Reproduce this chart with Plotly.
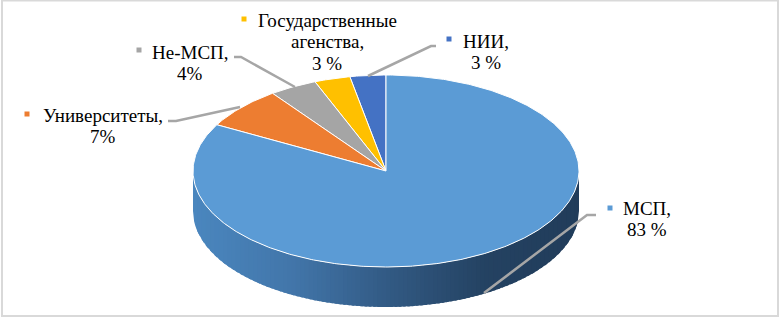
import math
import plotly.graph_objects as go

categories = ["НИИ", "Государственные агенства", "Не-МСП", "Университеты", "МСП"]
values = [3, 3, 4, 7, 83]
colors = ["#4472c4", "#ffc000", "#a5a5a5", "#ed7d31", "#5b9bd5"]

label_lines = [
    ["НИИ,", "3 %"],
    ["Государственные", "агенства,", "3 %"],
    ["Не-МСП,", "4%"],
    ["Университеты,", "7%"],
    ["МСП,", "83 %"],
]
label_pos = [(486, 41), (327, 20), (190, 52), (103, 115), (647, 208)]
key_pos = [(449, 39), (244, 19), (139, 50), (27, 114), (610, 208)]
leaders = [
    [(368, 76), (431, 46), (436, 46)],
    None,
    [(234, 57), (241, 57), (295, 87)],
    [(168, 121), (176, 121), (240, 107)],
    [(596, 215), (587, 215), (484, 293)],
]

CX, CY, RX, RY, DEPTH = 386, 171, 193, 96, 40
LINE_H = 21.5
FONT = "Liberation Serif"


def pt(deg):
    a = math.radians(deg)
    return CX + RX * math.sin(a), CY - RY * math.cos(a)


def lerp(c1, c2, t):
    return "rgb(%d,%d,%d)" % tuple(round(a + (b - a) * t) for a, b in zip(c1, c2))


fig = go.Figure()

# side wall: vertical gradient strips along the front half of the rim
stops = [(0.0, (74, 134, 190)), (0.25, (66, 118, 170)), (0.5, (50, 90, 132)),
         (0.75, (36, 66, 98)), (1.0, (33, 60, 90))]


def wall_color(t):
    for (t0, c0), (t1, c1) in zip(stops, stops[1:]):
        if t <= t1:
            return lerp(c0, c1, (t - t0) / (t1 - t0))
    return lerp(stops[-1][1], stops[-1][1], 0)


N = 90
for i in range(N):
    x0 = CX - RX + 2 * RX * i / N
    x1 = CX - RX + 2 * RX * min(i + 1.6, N) / N
    xs = [x0 + (x1 - x0) * k / 6 for k in range(7)]
    ys = [CY + RY * math.sqrt(max(0, 1 - ((x - CX) / RX) ** 2)) for x in xs]
    fig.add_trace(go.Scatter(
        x=xs + xs[::-1], y=ys + [y + DEPTH for y in ys[::-1]],
        mode="lines", fill="toself", line=dict(width=0),
        fillcolor=wall_color((x0 - (CX - RX)) / (2 * RX)), hoverinfo="skip", showlegend=False))

# top face: sectors run counter-clockwise from 12 o'clock
total = sum(values)
acc = 0
for cat, val, col in zip(categories, values, colors):
    start = -acc / total * 360
    end = -(acc + val) / total * 360
    n = max(8, int(abs(end - start) * 1.5))
    arc = [pt(start + (end - start) * k / n) for k in range(n + 1)]
    xs = [CX] + [p[0] for p in arc] + [CX]
    ys = [CY] + [p[1] for p in arc] + [CY]
    fig.add_trace(go.Scatter(
        x=xs, y=ys, mode="lines", fill="toself", name=cat,
        line=dict(color="#ffffff", width=1), fillcolor=col, showlegend=False, hoverinfo="name"))
    acc += val

# leader lines
for seg in leaders:
    if seg:
        fig.add_trace(go.Scatter(
            x=[p[0] for p in seg], y=[p[1] for p in seg], mode="lines",
            line=dict(color="#a6a6a6", width=2.5), hoverinfo="skip", showlegend=False))

# legend keys
fig.add_trace(go.Scatter(
    x=[p[0] for p in key_pos], y=[p[1] for p in key_pos], mode="markers",
    marker=dict(symbol="square", size=5, color=colors), hoverinfo="skip", showlegend=False))

# labels
for lines, (lx, ly) in zip(label_lines, label_pos):
    for j, line in enumerate(lines):
        fig.add_annotation(
            x=lx, y=ly + j * LINE_H, text=line, showarrow=False, xanchor="center", yanchor="middle",
            font=dict(family=FONT, size=19, color="#000000"))

fig.update_layout(
    width=780, height=319, margin=dict(l=0, r=0, t=0, b=0),
    paper_bgcolor="#ffffff", plot_bgcolor="#ffffff", showlegend=False,
    xaxis=dict(range=[0, 780], visible=False, fixedrange=True),
    yaxis=dict(range=[319, 0], visible=False, fixedrange=True),
    shapes=[dict(type="rect", xref="x", yref="y", x0=2, y0=0.5, x1=778, y1=316,
                 line=dict(color="#d9d9d9", width=2), layer="below")],
)
fig.write_html("out.html", config={"displayModeBar": False},
               post_script="document.body.style.margin='0';document.documentElement.style.overflow='hidden';")
